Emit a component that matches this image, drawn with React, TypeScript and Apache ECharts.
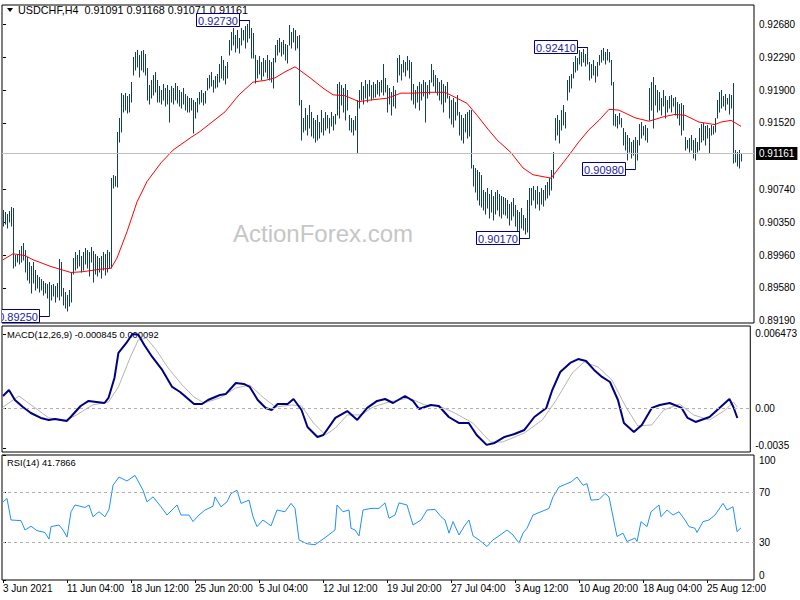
import React, { useEffect, useRef } from 'react';
import * as echarts from 'echarts';

const FONT = '"Liberation Sans", Arial, sans-serif';

const symbolLabel = 'USDCHF,H4';
const lastOpen = 0.91091;
const lastClose = 0.91161;

// H4 bars: highs and lows, one per bar (index 0 = first bar on the left)
const highs = [
  0.9050, 0.9047, 0.9045, 0.9048, 0.9053, 0.9052, 0.8997, 0.8998, 0.9003, 0.9007,
  0.9011, 0.9003, 0.8994, 0.8988, 0.8984, 0.8988, 0.8979, 0.8973, 0.8971, 0.8968,
  0.8966, 0.8964, 0.8963, 0.8965, 0.8961, 0.8963, 0.8960, 0.8964, 0.8992, 0.8988,
  0.8958, 0.8953, 0.8950, 0.8956, 0.8976, 0.8993, 0.9000, 0.8997, 0.9003, 0.8996,
  0.9000, 0.9005, 0.9003, 0.9000, 0.9006, 0.9001, 0.8998, 0.8996, 0.8993, 0.8996,
  0.9000, 0.8998, 0.9003, 0.9000, 0.9087, 0.9091, 0.9090, 0.9141, 0.9158, 0.9187,
  0.9185, 0.9187, 0.9184, 0.9186, 0.9200, 0.9230, 0.9235, 0.9238, 0.9232, 0.9237,
  0.9238, 0.9233, 0.9217, 0.9197, 0.9202, 0.9208, 0.9212, 0.9202, 0.9195, 0.9191,
  0.9198, 0.9193, 0.9197, 0.9191, 0.9195, 0.9193, 0.9199, 0.9195, 0.9191, 0.9188,
  0.9193, 0.9186, 0.9184, 0.9181, 0.9181, 0.9179, 0.9177, 0.9181, 0.9188, 0.9191,
  0.9187, 0.9190, 0.9205, 0.9208, 0.9212, 0.9202, 0.9207, 0.9210, 0.9221, 0.9231,
  0.9226, 0.9219, 0.9224, 0.9250, 0.9259, 0.9264, 0.9255, 0.9261, 0.9252, 0.9264,
  0.9261, 0.9266, 0.9268, 0.9273, 0.9264, 0.9258, 0.9232, 0.9226, 0.9231, 0.9224,
  0.9228, 0.9226, 0.9232, 0.9226, 0.9224, 0.9228, 0.9244, 0.9250, 0.9252, 0.9247,
  0.9250, 0.9245, 0.9244, 0.9267, 0.9259, 0.9264, 0.9261, 0.9254, 0.9255, 0.9179,
  0.9158, 0.9170, 0.9161, 0.9173, 0.9165, 0.9158, 0.9155, 0.9161, 0.9153, 0.9167,
  0.9158, 0.9165, 0.9161, 0.9158, 0.9165, 0.9160, 0.9162, 0.9198, 0.9200, 0.9197,
  0.9193, 0.9198, 0.9191, 0.9161, 0.9158, 0.9155, 0.9160, 0.9179, 0.9191, 0.9200,
  0.9195, 0.9202, 0.9198, 0.9202, 0.9197, 0.9200, 0.9198, 0.9202, 0.9200, 0.9202,
  0.9221, 0.9205, 0.9197, 0.9193, 0.9188, 0.9195, 0.9191, 0.9228, 0.9232, 0.9221,
  0.9226, 0.9224, 0.9231, 0.9226, 0.9224, 0.9198, 0.9191, 0.9195, 0.9200, 0.9198,
  0.9202, 0.9200, 0.9197, 0.9202, 0.9221, 0.9214, 0.9208, 0.9205, 0.9200, 0.9202,
  0.9198, 0.9195, 0.9200, 0.9184, 0.9179, 0.9181, 0.9177, 0.9185, 0.9165, 0.9161,
  0.9158, 0.9162, 0.9165, 0.9167, 0.9167, 0.9103, 0.9099, 0.9097, 0.9094, 0.9091,
  0.9073, 0.9071, 0.9076, 0.9068, 0.9073, 0.9066, 0.9071, 0.9073, 0.9068, 0.9066,
  0.9065, 0.9064, 0.9061, 0.9057, 0.9059, 0.9064, 0.9055, 0.9050, 0.9047, 0.9052,
  0.9044, 0.9040, 0.9061, 0.9076, 0.9076, 0.9078, 0.9073, 0.9078, 0.9071, 0.9076,
  0.9073, 0.9079, 0.9083, 0.9087, 0.9097, 0.9118, 0.9158, 0.9161, 0.9155, 0.9167,
  0.9173, 0.9165, 0.9202, 0.9207, 0.9210, 0.9224, 0.9231, 0.9228, 0.9238, 0.9235,
  0.9239, 0.9233, 0.9241, 0.9224, 0.9221, 0.9226, 0.9219, 0.9224, 0.9232, 0.9238,
  0.9240, 0.9235, 0.9239, 0.9235, 0.9226, 0.9200, 0.9162, 0.9160, 0.9164, 0.9158,
  0.9146, 0.9141, 0.9138, 0.9134, 0.9130, 0.9132, 0.9135, 0.9132, 0.9151, 0.9153,
  0.9148, 0.9150, 0.9146, 0.9193, 0.9200, 0.9206, 0.9197, 0.9191, 0.9188, 0.9181,
  0.9191, 0.9184, 0.9179, 0.9184, 0.9185, 0.9181, 0.9182, 0.9177, 0.9174, 0.9175,
  0.9173, 0.9135, 0.9132, 0.9134, 0.9138, 0.9132, 0.9134, 0.9130, 0.9146, 0.9151,
  0.9152, 0.9148, 0.9150, 0.9146, 0.9150, 0.9148, 0.9158, 0.9179, 0.9188, 0.9191,
  0.9184, 0.9186, 0.9181, 0.9186, 0.9185, 0.9199, 0.9120, 0.9118, 0.9120, 0.91168,
];

const lows = [
  0.9031, 0.9033, 0.9028, 0.9035, 0.9031, 0.8981, 0.8984, 0.8988, 0.8986, 0.8988,
  0.8991, 0.8977, 0.8967, 0.8964, 0.8952, 0.8964, 0.8956, 0.8958, 0.8953, 0.8956,
  0.8950, 0.8952, 0.8946, 0.8925, 0.8944, 0.8948, 0.8941, 0.8947, 0.8944, 0.8948,
  0.8938, 0.8934, 0.8931, 0.8937, 0.8941, 0.8974, 0.8979, 0.8981, 0.8984, 0.8977,
  0.8979, 0.8986, 0.8981, 0.8972, 0.8988, 0.8965, 0.8974, 0.8972, 0.8977, 0.8970,
  0.8979, 0.8973, 0.8977, 0.8981, 0.8981, 0.9076, 0.9078, 0.9077, 0.9130, 0.9141,
  0.9165, 0.9167, 0.9164, 0.9165, 0.9177, 0.9208, 0.9214, 0.9218, 0.9206, 0.9214,
  0.9212, 0.9208, 0.9179, 0.9174, 0.9181, 0.9185, 0.9188, 0.9177, 0.9177, 0.9174,
  0.9179, 0.9172, 0.9174, 0.9153, 0.9177, 0.9174, 0.9179, 0.9175, 0.9172, 0.9170,
  0.9174, 0.9167, 0.9165, 0.9165, 0.9167, 0.9140, 0.9158, 0.9165, 0.9174, 0.9177,
  0.9173, 0.9175, 0.9191, 0.9193, 0.9195, 0.9188, 0.9193, 0.9194, 0.9200, 0.9205,
  0.9202, 0.9198, 0.9205, 0.9232, 0.9238, 0.9244, 0.9235, 0.9240, 0.9234, 0.9244,
  0.9250, 0.9240, 0.9247, 0.9252, 0.9228, 0.9228, 0.9199, 0.9205, 0.9210, 0.9202,
  0.9207, 0.9212, 0.9205, 0.9202, 0.9200, 0.9193, 0.9224, 0.9232, 0.9235, 0.9231,
  0.9233, 0.9226, 0.9222, 0.9244, 0.9240, 0.9247, 0.9238, 0.9240, 0.9173, 0.9132,
  0.9141, 0.9144, 0.9138, 0.9146, 0.9137, 0.9134, 0.9130, 0.9132, 0.9134, 0.9141,
  0.9138, 0.9144, 0.9146, 0.9140, 0.9148, 0.9144, 0.9151, 0.9161, 0.9158, 0.9173,
  0.9165, 0.9155, 0.9167, 0.9144, 0.9141, 0.9138, 0.9144, 0.9117, 0.9170, 0.9179,
  0.9174, 0.9181, 0.9177, 0.9184, 0.9179, 0.9181, 0.9182, 0.9186, 0.9184, 0.9188,
  0.9185, 0.9188, 0.9165, 0.9174, 0.9161, 0.9172, 0.9170, 0.9200, 0.9208, 0.9202,
  0.9212, 0.9207, 0.9214, 0.9205, 0.9179, 0.9174, 0.9170, 0.9177, 0.9167, 0.9179,
  0.9184, 0.9153, 0.9181, 0.9186, 0.9200, 0.9195, 0.9188, 0.9185, 0.9179, 0.9174,
  0.9165, 0.9177, 0.9181, 0.9158, 0.9151, 0.9147, 0.9155, 0.9161, 0.9138, 0.9132,
  0.9128, 0.9141, 0.9134, 0.9137, 0.9099, 0.9078, 0.9071, 0.9061, 0.9055, 0.9053,
  0.9050, 0.9045, 0.9052, 0.9040, 0.9047, 0.9038, 0.9045, 0.9050, 0.9043, 0.9040,
  0.9045, 0.9044, 0.9040, 0.9032, 0.9038, 0.9043, 0.9031, 0.9019, 0.9024, 0.9028,
  0.9026, 0.9021, 0.9024, 0.9017, 0.9055, 0.9061, 0.9052, 0.9057, 0.9050, 0.9057,
  0.9054, 0.9061, 0.9064, 0.9067, 0.9073, 0.9087, 0.9132, 0.9138, 0.9128, 0.9144,
  0.9150, 0.9146, 0.9179, 0.9188, 0.9193, 0.9205, 0.9212, 0.9214, 0.9221, 0.9219,
  0.9224, 0.9219, 0.9221, 0.9202, 0.9205, 0.9208, 0.9200, 0.9207, 0.9220, 0.9224,
  0.9226, 0.9221, 0.9226, 0.9224, 0.9197, 0.9150, 0.9148, 0.9146, 0.9151, 0.9147,
  0.9126, 0.9120, 0.9108, 0.9118, 0.9111, 0.9114, 0.9098, 0.9108, 0.9126, 0.9134,
  0.9138, 0.9132, 0.9130, 0.9155, 0.9167, 0.9146, 0.9173, 0.9165, 0.9167, 0.9161,
  0.9172, 0.9158, 0.9165, 0.9170, 0.9165, 0.9172, 0.9161, 0.9158, 0.9150, 0.9138,
  0.9144, 0.9120, 0.9123, 0.9118, 0.9120, 0.9111, 0.9108, 0.9118, 0.9120, 0.9130,
  0.9132, 0.9126, 0.9134, 0.9117, 0.9138, 0.9139, 0.9141, 0.9158, 0.9165, 0.9170,
  0.9172, 0.9167, 0.9174, 0.9162, 0.9170, 0.9105, 0.9106, 0.9101, 0.9099, 0.91071,
];

// Moving average (red) read at bar indices
const maIdx = [
  0, 5, 11, 15, 24, 34, 40, 49, 54, 57, 62, 67, 72, 79, 85, 94, 98, 111, 118, 125,
  131, 136, 141, 146, 153, 160, 165, 171, 178, 184, 192, 199, 205, 214, 221, 227, 232, 237, 242, 247,
  254, 260, 265, 274, 276, 282, 288, 293, 298, 303, 308, 316, 323, 330, 336, 341, 348, 356, 359, 364, 369,
];
const maVal = [
  0.8991, 0.8998, 0.8996, 0.8991, 0.8983, 0.8976, 0.8977, 0.8980, 0.8981, 0.8993,
  0.9024, 0.9059, 0.9083, 0.9105, 0.9120, 0.9135, 0.9141, 0.9165, 0.9185, 0.9200,
  0.9202, 0.9205, 0.9212, 0.9218, 0.9206, 0.9193, 0.9185, 0.9184, 0.9177, 0.9179,
  0.9181, 0.9187, 0.9187, 0.9188, 0.9188, 0.9181, 0.9175, 0.9161, 0.9146, 0.9132,
  0.9117, 0.9099, 0.9091, 0.9087, 0.9093, 0.9111, 0.9130, 0.9144, 0.9155, 0.9168,
  0.9167, 0.9158, 0.9154, 0.9159, 0.9162, 0.9161, 0.9153, 0.9150, 0.9153, 0.9155, 0.9148,
];

// MACD(12,26,9) main line and signal line
const macdIdx = [
  0, 3, 6, 10, 14, 19, 23, 26, 32, 34, 39, 43, 47, 51, 53, 56, 58, 62, 65, 68,
  71, 75, 80, 85, 89, 96, 100, 103, 109, 112, 117, 121, 124, 128, 132, 135, 138, 143, 146, 150,
  153, 158, 161, 167, 173, 178, 183, 188, 192, 196, 202, 206, 209, 215, 219, 224, 229, 234, 238, 243,
  247, 252, 257, 262, 267, 273, 276, 280, 285, 289, 293, 297, 301, 305, 309, 312, 317, 321, 326, 330,
  335, 341, 344, 348, 355, 360, 365, 367, 369,
];
const macdVal = [
  0.00107, 0.00159, 0.00072, 0.00011, -0.00041, -0.00084, -0.00102, -0.00093, -0.00111, -0.00076,
  0.00020, 0.00064, 0.00055, 0.00046, 0.00090, 0.00264, 0.00482, 0.00569, 0.00647, 0.00640,
  0.00551, 0.00447, 0.00334, 0.00186, 0.00142, 0.00037, 0.00037, 0.00072, 0.00116, 0.00125,
  0.00220, 0.00212, 0.00186, 0.00072, 0.00003, -0.00015, 0.00037, 0.00037, 0.00081, -0.00015,
  -0.00163, -0.00250, -0.00233, -0.00084, -0.00024, -0.00102, 0.00003, 0.00064, 0.00081, 0.00046,
  0.00107, 0.00064, -0.00006, 0.00029, 0.00020, -0.00076, -0.00128, -0.00128, -0.00233, -0.00319,
  -0.00302, -0.00250, -0.00224, -0.00189, -0.00076, 0.00003, 0.00159, 0.00316, 0.00395, 0.00429,
  0.00412, 0.00334, 0.00273, 0.00229, 0.00072, -0.00128, -0.00206, -0.00145, 0.00003, 0.00029,
  0.00046, 0.00003, -0.00084, -0.00119, -0.00076, 0.00003, 0.00081, 0.00011, -0.000845,
];
const signalIdx = [
  0, 8, 23, 32, 37, 45, 53, 58, 64, 68, 72, 77, 83, 90, 96, 101, 109, 117, 124, 131,
  137, 145, 150, 156, 162, 167, 173, 180, 186, 194, 204, 212, 219, 227, 236, 245, 251, 262, 271, 278,
  286, 292, 299, 306, 313, 319, 326, 332, 340, 347, 355, 363, 367, 369,
];
const signalVal = [
  0.00011, 0.00107, -0.00084, -0.00102, -0.00058, 0.00029, 0.00055, 0.00186, 0.00447, 0.00595,
  0.00612, 0.00508, 0.00351, 0.00203, 0.00098, 0.00046, 0.00090, 0.00177, 0.00203, 0.00090,
  0.00011, 0.00029, 0.00020, -0.00128, -0.00233, -0.00172, -0.00058, -0.00058, 0.00011, 0.00055,
  0.00090, 0.00029, 0.00020, -0.00041, -0.00128, -0.00294, -0.00294, -0.00215, -0.00102, 0.00072,
  0.00307, 0.00403, 0.00360, 0.00246, 0.00011, -0.00154, -0.00145, -0.00015, 0.00037, -0.00058,
  -0.00102, -0.00015, 0.00055, 0.000092,
];

// RSI(14)
const rsiIdx = [
  0, 2, 4, 9, 11, 14, 17, 21, 23, 24, 28, 30, 32, 34, 36, 41, 43, 45, 48, 51,
  53, 55, 58, 62, 66, 70, 72, 75, 79, 82, 87, 89, 93, 95, 98, 101, 105, 106, 109, 112,
  114, 117, 119, 123, 125, 127, 130, 134, 137, 141, 144, 146, 148, 152, 156, 160, 164, 166, 167, 170,
  173, 174, 176, 178, 180, 184, 188, 191, 193, 196, 198, 202, 205, 209, 212, 216, 219, 221, 223, 225,
  228, 231, 233, 235, 238, 242, 245, 248, 252, 255, 258, 260, 262, 265, 269, 273, 275, 278, 282, 284,
  287, 290, 292, 294, 298, 301, 303, 306, 307, 310, 312, 316, 317, 319, 322, 324, 328, 329, 332, 335,
  338, 341, 343, 346, 347, 350, 353, 356, 360, 362, 365, 367, 369,
];
const rsiVal = [
  62.5, 65.2, 48, 47.5, 40, 43, 39.5, 38, 32.7, 42.7, 44, 40, 34.3, 54.6, 60, 58, 60, 50.6, 54.6, 50.6,
  56.5, 75.8, 82.4, 79.2, 83.7, 71.8, 62.5, 66.5, 58.6, 52, 60, 52, 52, 46.7, 52, 56, 59, 66.5, 58.6, 62.5,
  69.2, 71.8, 61.3, 63.9, 50.6, 42.7, 48, 43.3, 56, 54.6, 61.3, 57.3, 32.1, 29, 28.2, 32.7, 37.5, 40, 60, 54.6,
  56, 41.4, 40, 35.3, 56, 57.3, 57.3, 61.7, 49.4, 52, 61.7, 60, 44, 48, 56, 56.5, 50.6, 48, 37.5, 46.7,
  36, 44, 48, 35.3, 32.1, 26.8, 32.1, 35.3, 40, 36, 29.5, 37.5, 41.4, 52, 54.6, 57.3, 66.5, 74.4, 77.1, 78.4,
  82.4, 75.8, 77.1, 63.9, 64.4, 69.2, 66.5, 42.7, 34.8, 37.5, 30.8, 33.5, 30.8, 46.7, 42.7, 54.6, 60, 50.6, 56, 52,
  54.6, 48, 42.7, 41.4, 38, 46.7, 48, 52, 61.3, 56, 58.6, 38.7, 41.7866,
];

const macdLabel = 'MACD(12,26,9) -0.000845 0.000092';
const rsiLabel = 'RSI(14) 41.7866';
const rsiLevels = [70, 30];

const priceTicks = [0.9268, 0.9229, 0.919, 0.9152, 0.9074, 0.9035, 0.8996, 0.8958, 0.8919];
const macdTicks = [0.006473, 0, -0.0035];
const rsiTicks = [0, 30, 70, 100];
const timeTickIdx = [0, 32, 64, 96, 128, 160, 192, 224, 256, 288, 320, 352];
const timeTickLabels = [
  '3 Jun 2021', '11 Jun 04:00', '18 Jun 12:00', '25 Jun 20:00', '5 Jul 04:00', '12 Jul 12:00',
  '19 Jul 20:00', '27 Jul 04:00', '3 Aug 12:00', '10 Aug 20:00', '18 Aug 04:00', '25 Aug 12:00',
];

// swing high / low labels: bar index and which end of the bar
const annIdx = [23, 123, 263, 292, 316];
const annSide = ['low', 'high', 'low', 'high', 'low'];

const BAR_COLOR = '#123f5a';

export default function App() {
  const ref = useRef<HTMLDivElement>(null);

  useEffect(() => {
    const el = ref.current;
    if (!el) return;
    const chart = echarts.init(el, null, { renderer: 'svg' });
    const n = highs.length;
    const barData = highs.map((h, i) => [i, lows[i], h]);
    const maData = maIdx.map((i, k) => [i, maVal[k]]);
    const macdData = macdIdx.map((i, k) => [i, macdVal[k]]);
    const signalData = signalIdx.map((i, k) => [i, signalVal[k]]);
    const rsiData = rsiIdx.map((i, k) => [i, rsiVal[k]]);
    const annData = annIdx.map((i, k) => [i, annSide[k] === 'high' ? highs[i] : lows[i]]);
    const headerText = `${symbolLabel}  ${lastOpen.toFixed(5)} ${highs[n - 1].toFixed(5)} ${lows[n - 1].toFixed(5)} ${lastClose.toFixed(5)}`;

    const xAxisBase = (g: number) => ({
      type: 'value',
      gridIndex: g,
      min: -0.5,
      max: 375.5,
      axisLine: { show: false },
      splitLine: { show: false },
      axisTick: g === 2
        ? { show: true, customValues: timeTickIdx, length: 3, lineStyle: { color: '#000' } }
        : { show: false },
      axisLabel: g === 2
        ? {
            show: true,
            customValues: timeTickIdx,
            formatter: (v: number) => timeTickLabels[timeTickIdx.indexOf(Math.round(v))] ?? '',
            align: 'left',
            margin: 3,
            color: '#000',
            fontSize: 10,
            fontFamily: FONT,
          }
        : { show: false },
    });

    const yLabel = {
      color: '#000',
      fontSize: 10,
      fontFamily: FONT,
      margin: 5,
    };
    const richShift = {
      up2: { padding: [0, 0, 6, 0], color: '#000', fontSize: 10, fontFamily: FONT },
    };

    const option: any = {
      animation: false,
      backgroundColor: '#ffffff',
      textStyle: { fontFamily: FONT },
      grid: [
        { left: 2, top: 5, width: 752, height: 318, show: true, borderColor: '#000', borderWidth: 1 },
        { left: 2, top: 326, width: 752, height: 126, show: true, borderColor: '#000', borderWidth: 1 },
        { left: 2, top: 455, width: 752, height: 125, show: true, borderColor: '#000', borderWidth: 1 },
      ],
      xAxis: [xAxisBase(0), xAxisBase(1), xAxisBase(2)],
      yAxis: [
        {
          type: 'value', gridIndex: 0, position: 'right', min: 0.89166, max: 0.92907,
          splitLine: { show: false }, axisLine: { show: false },
          axisTick: { show: true, customValues: priceTicks, length: 3, lineStyle: { color: '#000' } },
          axisLabel: { ...yLabel, customValues: priceTicks, formatter: (v: number) => v.toFixed(5) },
        },
        {
          type: 'value', gridIndex: 1, position: 'right', min: -0.00381, max: 0.00717,
          splitLine: { show: false }, axisLine: { show: false },
          axisTick: { show: true, customValues: macdTicks, length: 3, lineStyle: { color: '#000' } },
          axisLabel: {
            ...yLabel, customValues: macdTicks, rich: richShift,
            formatter: (v: number) => (v === 0 ? '0.00' : v < 0 ? `{up2|${v}}` : String(v)),
          },
        },
        {
          type: 'value', gridIndex: 2, position: 'right', min: 0, max: 100,
          splitLine: { show: false }, axisLine: { show: false },
          axisTick: { show: true, customValues: rsiTicks, length: 3, lineStyle: { color: '#000' } },
          axisLabel: {
            ...yLabel, customValues: rsiTicks,
            formatter: (v: number) => String(v),
            verticalAlignMinLabel: 'bottom', verticalAlignMaxLabel: 'top',
          },
        },
      ],
      graphic: [
        {
          type: 'text', left: 233, top: 221, z: -10,
          style: { text: 'ActionForex.com', fill: '#c6c6c6', font: `24px ${FONT}` },
        },
        {
          type: 'polygon', z: 0,
          shape: { points: [[7, 8], [13, 8], [10, 12]] },
          style: { fill: '#000' },
        },
        {
          type: 'text', left: 18, top: 4,
          style: { text: headerText, fill: '#000', font: `10.8px ${FONT}` },
        },
        {
          type: 'text', left: 7, top: 330,
          style: { text: macdLabel, fill: '#000', font: `9.4px ${FONT}` },
        },
        {
          type: 'text', left: 7, top: 458,
          style: { text: rsiLabel, fill: '#000', font: `9.4px ${FONT}` },
        },
      ],
      series: [
        {
          name: 'bars',
          type: 'custom',
          xAxisIndex: 0,
          yAxisIndex: 0,
          clip: false,
          data: barData,
          encode: { x: 0, y: [1, 2] },
          renderItem: (_p: any, api: any) => {
            const i = api.value(0);
            const lo = api.coord([i, api.value(1)]);
            const hi = api.coord([i, api.value(2)]);
            const x = Math.round(lo[0]) + 0.5;
            return {
              type: 'line',
              shape: { x1: x, y1: Math.round(lo[1]) + 0.5, x2: x, y2: Math.round(hi[1]) },
              style: { stroke: BAR_COLOR, lineWidth: 1 },
            };
          },
          z: 3,
        },
        {
          name: 'MA',
          type: 'line',
          xAxisIndex: 0,
          yAxisIndex: 0,
          data: maData,
          symbol: 'none',
          lineStyle: { color: '#ff0000', width: 1 },
          markLine: {
            silent: true,
            precision: 5,
            symbol: ['none', 'none'],
            data: [{ yAxis: lastClose }],
            lineStyle: { color: '#c0c0c0', type: 'solid', width: 1 },
            label: {
              show: true,
              position: 'end',
              formatter: lastClose.toFixed(5),
              backgroundColor: '#000',
              color: '#fff',
              padding: [2, 3, 1, 3],
              fontSize: 10,
              fontFamily: FONT,
              distance: 2,
            },
          },
          z: 4,
        },
        {
          name: 'swing labels',
          type: 'custom',
          xAxisIndex: 0,
          yAxisIndex: 0,
          clip: true,
          data: annData,
          encode: { x: 0, y: 1 },
          z: 6,
          renderItem: (_p: any, api: any) => {
            const i = api.value(0);
            const v = api.value(1);
            const p = api.coord([i, v]);
            const px = Math.round(p[0]) + 0.5;
            const cy = Math.round(p[1]) + 0.5;
            const w = 43;
            const h = 13;
            const right = Math.round(p[0]) - 10 + 0.5;
            return {
              type: 'group',
              children: [
                { type: 'line', shape: { x1: right, y1: cy, x2: px, y2: cy }, style: { stroke: '#000080', lineWidth: 1 } },
                {
                  type: 'rect',
                  shape: { x: right - w, y: cy - h / 2 - 0.5, width: w, height: h },
                  style: { fill: '#ffffff', stroke: '#000080', lineWidth: 1 },
                },
                {
                  type: 'text',
                  style: {
                    x: right - w / 2, y: cy, text: Number(v).toFixed(5), fill: '#1a1aa6',
                    font: `11px ${FONT}`, align: 'center', verticalAlign: 'middle',
                  },
                },
              ],
            };
          },
        },
        {
          name: 'Signal',
          type: 'line',
          xAxisIndex: 1,
          yAxisIndex: 1,
          data: signalData,
          symbol: 'none',
          lineStyle: { color: '#b4b4b4', width: 1 },
          markLine: {
            silent: true,
            precision: 6,
            symbol: ['none', 'none'],
            data: [{ yAxis: 0 }],
            label: { show: false },
            lineStyle: { color: '#b0b0b0', type: [3, 3], width: 1 },
          },
          z: 2,
        },
        {
          name: 'MACD',
          type: 'line',
          xAxisIndex: 1,
          yAxisIndex: 1,
          data: macdData,
          symbol: 'none',
          lineStyle: { color: '#000080', width: 2 },
          z: 3,
        },
        {
          name: 'RSI',
          type: 'line',
          xAxisIndex: 2,
          yAxisIndex: 2,
          data: rsiData,
          symbol: 'none',
          lineStyle: { color: '#1e90ff', width: 1 },
          markLine: {
            silent: true,
            symbol: ['none', 'none'],
            data: rsiLevels.map((l) => ({ yAxis: l })),
            label: { show: false },
            lineStyle: { color: '#b0b0b0', type: [3, 3], width: 1 },
          },
          z: 3,
        },
      ],
    };

    chart.setOption(option);
    return () => chart.dispose();
  }, []);

  return (
    <div
      ref={ref}
      style={{ position: 'absolute', left: 0, top: 0, width: 800, height: 600, background: '#fff' }}
    />
  );
}
